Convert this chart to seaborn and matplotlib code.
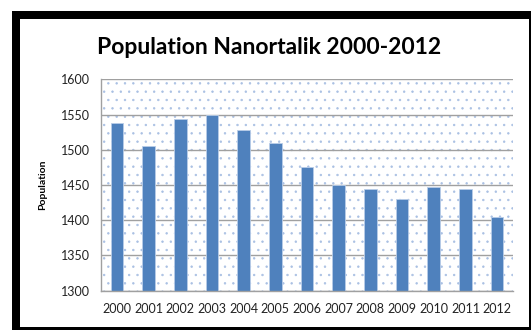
import matplotlib
matplotlib.use("Agg")
import matplotlib.pyplot as plt
from matplotlib.patches import Rectangle
import seaborn as sns
import pandas as pd

# Population of Nanortalik by year
years = ["2000", "2001", "2002", "2003", "2004", "2005", "2006",
         "2007", "2008", "2009", "2010", "2011", "2012"]
population = [1538, 1506, 1544, 1549, 1528, 1509, 1476,
              1450, 1444, 1430, 1447, 1444, 1404]
y_ticks = [1300, 1350, 1400, 1450, 1500, 1550, 1600]

title = "Population Nanortalik 2000-2012"
y_label = "Population"

sns.set_theme(style="white")
plt.rcParams["font.family"] = ["Lato", "DejaVu Sans"]
plt.rcParams["hatch.linewidth"] = 0.5

W, H = 531, 330
fig = plt.figure(figsize=(W / 100, H / 100), dpi=100)
fig.patch.set_facecolor("white")

# plot area in pixel terms
left, right, top, bottom = 101, 513, 79.3, 290.7
ax = fig.add_axes([left / W, 1 - bottom / H, (right - left) / W, (bottom - top) / H])

df = pd.DataFrame({"year": years, "population": population})
sns.barplot(data=df, x="year", y="population", color="#4F81BD", saturation=1,
            width=0.4, edgecolor="#B9CDE8", linewidth=0.6, ax=ax, zorder=2)

# dotted plot-area fill
ax.add_patch(Rectangle((0, 0), 1, 1, transform=ax.transAxes, facecolor="white",
                       edgecolor="#A9C0E3", hatch="..", linewidth=0, zorder=0))

ax.set_xlim(-0.5, len(years) - 0.5)
ax.set_ylim(y_ticks[0], y_ticks[-1])
ax.set_yticks(y_ticks)
ax.set_axisbelow(True)
ax.yaxis.grid(True, color="#A0A0A0", linewidth=1.0, zorder=1)
ax.xaxis.grid(False)

for s in ["top", "right"]:
    ax.spines[s].set_visible(False)
for s in ["left", "bottom"]:
    ax.spines[s].set_color("#A0A0A0")
    ax.spines[s].set_linewidth(1.0)

ax.tick_params(axis="y", labelsize=9, pad=8, length=0, colors="#222222")
ax.tick_params(axis="x", labelsize=9, pad=8.5, length=0, colors="#222222")
ax.set_xlabel("")
ax.set_ylabel(y_label, fontsize=7.5, fontweight="bold", color="black")
ax.yaxis.set_label_coords((47 - left) / (right - left), 0.5)

fig.text(269 / W, 1 - 47 / H, title, ha="center", va="center",
         fontsize=16.5, fontweight="bold", color="black")

# heavy chart frame
def frame(x0, y0, x1, y1):
    fig.add_artist(Rectangle((x0 / W, 1 - y1 / H), (x1 - x0) / W, (y1 - y0) / H,
                             transform=fig.transFigure, facecolor="black",
                             edgecolor="none", zorder=5))

frame(12, 11, 20, 330)
frame(12, 11, 531, 19)
frame(12, 327, 531, 330)
frame(529, 11, 531, 330)

fig.savefig("out.png", dpi=100)
